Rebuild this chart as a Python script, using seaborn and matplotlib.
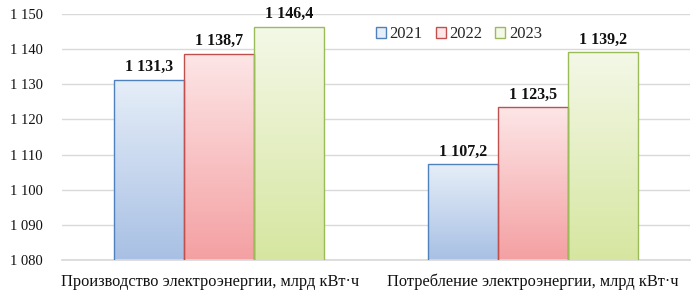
import numpy as np
import pandas as pd
import matplotlib
matplotlib.use("Agg")
import matplotlib.pyplot as plt
import matplotlib.transforms as mtransforms
import seaborn as sns
from matplotlib.colors import LinearSegmentedColormap
from matplotlib.patches import Patch

categories = ["Производство электроэнергии, млрд кВт·ч", "Потребление электроэнергии, млрд кВт·ч"]
years = ["2021", "2022", "2023"]
v2021 = [1131.3, 1107.2]
v2022 = [1138.7, 1123.5]
v2023 = [1146.4, 1139.2]
yticks = [1080, 1090, 1100, 1110, 1120, 1130, 1140, 1150]

edge = {"2021": "#4f81bd", "2022": "#c0504d", "2023": "#9bbb59"}
top_c = {"2021": "#e6eef8", "2022": "#fde6e7", "2023": "#f4f8e8"}
bot_c = {"2021": "#a8c0e4", "2022": "#f4a0a2", "2023": "#d6e6a0"}

rows = []
for i, c in enumerate(categories):
    for y, vals in zip(years, [v2021, v2022, v2023]):
        rows.append({"cat": c, "year": y, "val": vals[i]})
df = pd.DataFrame(rows)

sns.set_theme(style="white")
plt.rcParams["font.family"] = ["Liberation Serif", "DejaVu Serif"]

fig = plt.figure(figsize=(6.99, 2.96), dpi=100)
ax = fig.add_axes([62/699, 1-260/296, (690-62)/699, (260-14)/296])

sns.barplot(data=df, x="cat", y="val", hue="year", palette=top_c, width=0.67,
            ax=ax, legend=False, saturation=1)
ax.set_ylim(1080, 1150)

def fmt(v, dec):
    return f"{v:,.{dec}f}".replace(",", " ").replace(".", ",")

ordered = [(c, y) for y in years for c in categories]
for patch, (c, y) in zip(ax.patches, ordered):
    x0 = patch.get_x(); w = patch.get_width(); h = patch.get_height()
    y0 = patch.get_y()
    cmap = LinearSegmentedColormap.from_list("g", [bot_c[y], top_c[y]])
    grad = np.linspace(0, 1, 256).reshape(-1, 1)
    im = ax.imshow(grad, extent=[x0, x0 + w, 1080, y0 + h], origin="lower",
                   aspect="auto", cmap=cmap, zorder=2)
    im.set_clip_path(patch)
    patch.set_facecolor("none")
    patch.set_edgecolor(edge[y])
    patch.set_linewidth(1.0)
    patch.set_zorder(3)
    val = df[(df.cat == c) & (df.year == y)].val.iloc[0]
    ax.text(x0 + w / 2, y0 + h + 1.3, fmt(val, 1), ha="center", va="bottom",
            fontsize=11.5, fontweight="bold", color="#111111")

ax.set_xlim(-0.5, 1.5)
ax.set_ylim(1080, 1150)
ax.set_yticks(yticks)
ax.set_yticklabels([fmt(t, 0) for t in yticks], fontsize=10.5, color="#111111")
ax.tick_params(axis="x", labelsize=11.8, colors="#111111", length=0, pad=10)
ax.tick_params(axis="y", length=0, pad=14)
ax.set_xlabel(""); ax.set_ylabel("")
ax.grid(axis="y", color="#d9d9d9", linewidth=1.0, zorder=0)
ax.set_axisbelow(True)
for s in ["left", "right", "top"]:
    ax.spines[s].set_visible(False)
ax.spines["bottom"].set_color("#d9d9d9")

xt = ax.get_xticklabels()
shift = mtransforms.ScaledTranslation(-9/100, 0, fig.dpi_scale_trans)
xt[0].set_transform(xt[0].get_transform() + shift)

handles = [Patch(facecolor=top_c[y], edgecolor=edge[y], label=y) for y in years]
ax.legend(handles=handles, loc="upper left", bbox_to_anchor=(0.5, 0.95), ncol=3,
          frameon=False, fontsize=12, handlelength=0.6, handleheight=0.6,
          handletextpad=0.2, columnspacing=0.8, borderpad=0, borderaxespad=0)

fig.savefig("out.png", dpi=100)
